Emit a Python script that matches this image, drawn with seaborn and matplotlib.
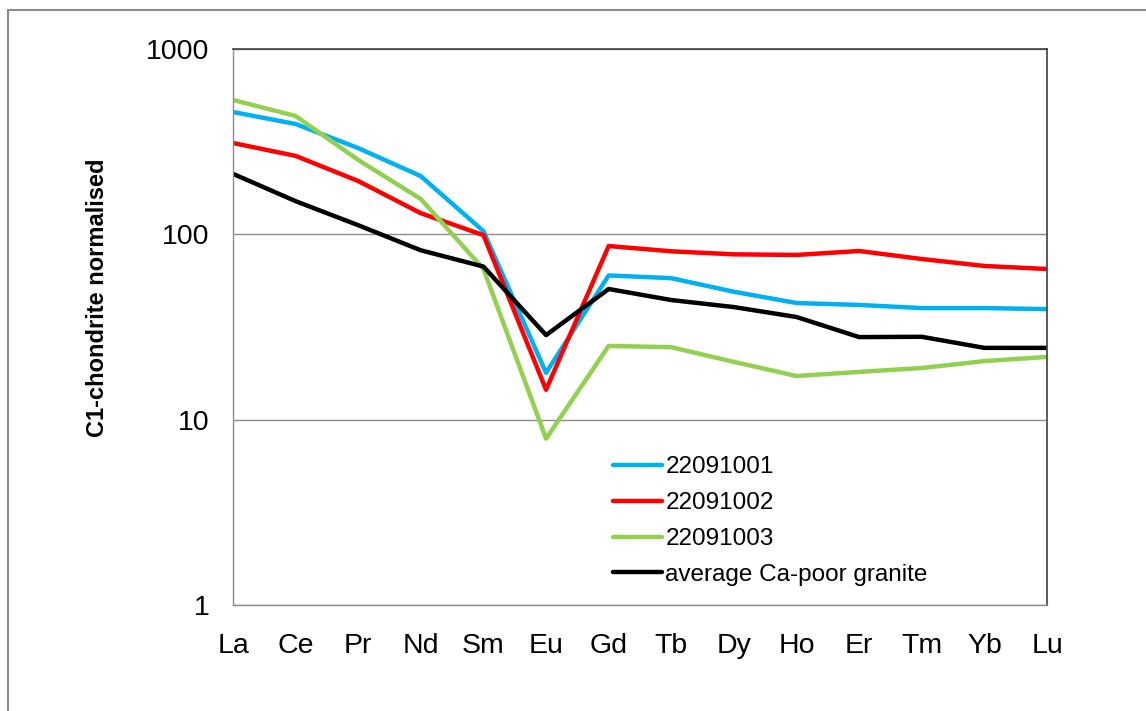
import numpy as np
import pandas as pd
import matplotlib
matplotlib.use("Agg")
import matplotlib.pyplot as plt
import seaborn as sns
from matplotlib.patches import Rectangle

elements = ["La", "Ce", "Pr", "Nd", "Sm", "Eu", "Gd", "Tb", "Dy", "Ho", "Er", "Tm", "Yb", "Lu"]
s22091001 = [457, 394, 292, 206, 104, 17.9, 60, 58, 49, 42.6, 41.6, 40, 40, 39.5]
s22091002 = [311, 265, 194, 130, 99, 14.5, 86.5, 81, 78, 77.4, 81.3, 73.6, 67.5, 65]
s22091003 = [531, 435, 252, 155, 65, 7.9, 25, 24.6, 20.5, 17.2, 18.1, 19, 20.7, 21.8]
avg_ca_poor = [212, 151, 112, 82, 67, 28.6, 50.7, 44.2, 40.5, 35.8, 27.9, 28, 24.4, 24.4]
series_names = ["22091001", "22091002", "22091003", "average Ca-poor granite"]
yticks = [1, 10, 100, 1000]

colors = ["#00B0F0", "#FF0000", "#92D050", "#000000"]

rows = []
for name, vals in zip(series_names, [s22091001, s22091002, s22091003, avg_ca_poor]):
    for i, (el, v) in enumerate(zip(elements, vals)):
        rows.append({"pos": i, "element": el, "value": v, "series": name})
df = pd.DataFrame(rows)

sns.set_style("white")
plt.rcParams["font.family"] = ["Liberation Sans", "DejaVu Sans"]
plt.rcParams["text.color"] = "black"

fig = plt.figure(figsize=(11.46, 7.11), dpi=100)
ax = fig.add_axes([233/1146, 1-605/711, (1047-233)/1146, (605-49)/711])

sns.lineplot(data=df, x="pos", y="value", hue="series", hue_order=series_names,
             palette=colors, linewidth=3.2, ax=ax, sort=False, legend=True)

ax.set_yscale("log")
ax.set_ylim(1, 1000)
ax.set_xlim(0, len(elements) - 1)
ax.yaxis.set_major_locator(matplotlib.ticker.FixedLocator(yticks))
ax.yaxis.set_minor_locator(matplotlib.ticker.NullLocator())
ax.set_yticklabels([str(t) for t in yticks])
ax.set_xticks(range(len(elements)))
ax.set_xticklabels(elements)

ax.grid(axis="y", color="#8c8c8c", linewidth=1.0)
ax.set_axisbelow(True)
ax.tick_params(axis="both", which="major", direction="out", length=6, width=1,
               color="#8c8c8c", labelsize=20.5, labelcolor="black")
ax.tick_params(axis="x", pad=14)
ax.tick_params(axis="y", pad=11)

for side in ["left", "bottom"]:
    ax.spines[side].set_color("#8c8c8c")
    ax.spines[side].set_linewidth(1.0)
for side in ["top", "right"]:
    ax.spines[side].set_color("#404040")
    ax.spines[side].set_linewidth(1.2)

ax.set_xlabel("")
ax.set_ylabel("C1-chondrite normalised", fontsize=17, fontweight="bold", color="black")
ax.yaxis.set_label_coords(-0.152, 0.552)

leg = ax.legend(loc="upper left", bbox_to_anchor=(0.455, 0.285), frameon=False,
                fontsize=17.5, handlelength=2.0, handletextpad=0.15, labelspacing=0.57,
                borderaxespad=0)
for line in leg.get_lines():
    line.set_linewidth(3.2)
for t in leg.get_texts():
    t.set_color("black")

fig.patches.append(Rectangle((8/1146, -0.1), 1.2, 1 - 10/711 + 0.1, transform=fig.transFigure,
                             fill=False, edgecolor="#8c8c8c", linewidth=1.5))

fig.savefig("out.png", dpi=100)
